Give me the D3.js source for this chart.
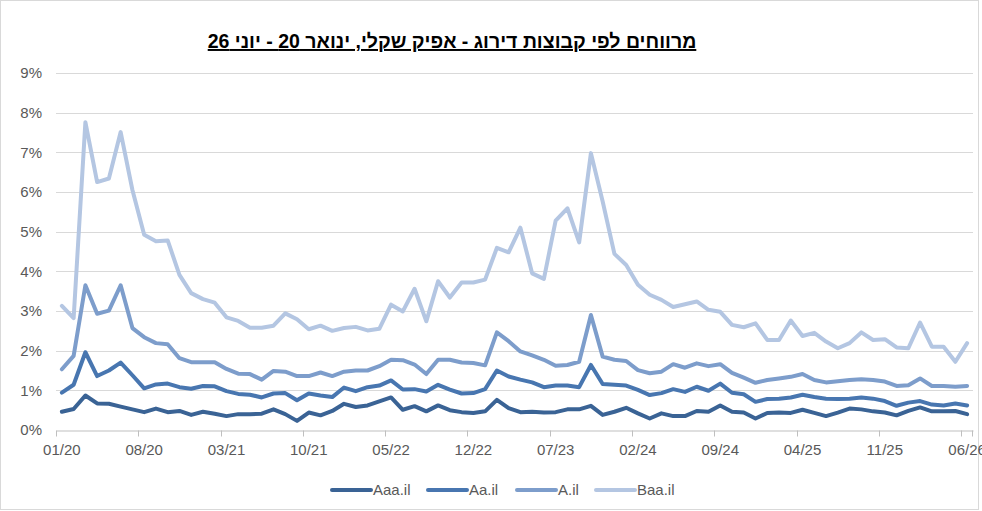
<!DOCTYPE html>
<html>
<head>
<meta charset="utf-8">
<script src="https://cdn.jsdelivr.net/npm/d3@7"></script>
<style>
  body { margin: 0; background: #fff; }
  svg { display: block; }
</style>
</head>
<body>
<div id="chart"></div>
<script>
// monthly spreads, 01/2020 - 06/2026 (percent)
var months = d3.timeMonth.range(new Date(2020, 0, 1), new Date(2026, 6, 1));
var tickLabels = ["01/20","08/20","03/21","10/21","05/22","12/22","07/23","02/24","09/24","04/25","11/25","06/26"];
var seriesNames = ["Aaa.il","Aa.il","A.il","Baa.il"];
var seriesColors = ["#3a6395","#4876b0","#7d9dcb","#b4c6e2"];

var aaa = [0.46,0.53,0.87,0.67,0.66,0.59,0.52,0.45,0.54,0.45,0.48,0.38,0.46,
  0.41,0.35,0.40,0.40,0.41,0.52,0.40,0.23,0.44,0.37,0.48,0.66,0.58,
  0.62,0.72,0.82,0.51,0.60,0.47,0.62,0.50,0.45,0.43,0.47,0.76,0.55,0.45,
  0.46,0.44,0.45,0.52,0.52,0.61,0.38,0.46,0.56,0.42,0.29,0.42,0.35,
  0.35,0.48,0.46,0.62,0.46,0.44,0.29,0.43,0.44,0.43,0.51,0.43,0.35,
  0.44,0.54,0.52,0.47,0.44,0.37,0.48,0.57,0.47,0.47,0.48,0.40];
var aa = [0.94,1.14,1.96,1.36,1.50,1.70,1.38,1.05,1.15,1.17,1.08,1.04,1.11,
  1.10,0.98,0.91,0.89,0.82,0.92,0.93,0.75,0.92,0.87,0.83,1.07,0.98,
  1.08,1.12,1.25,1.02,1.03,0.97,1.14,1.02,0.92,0.93,1.03,1.50,1.35,1.27,
  1.20,1.08,1.12,1.12,1.08,1.64,1.16,1.14,1.12,1.01,0.88,0.93,1.03,
  0.96,1.09,0.99,1.17,0.94,0.90,0.71,0.78,0.79,0.82,0.89,0.83,0.79,
  0.78,0.79,0.82,0.79,0.73,0.61,0.69,0.73,0.64,0.62,0.67,0.62];
var a = [1.53,1.87,3.65,2.93,3.01,3.65,2.57,2.34,2.19,2.16,1.81,1.71,1.71,
  1.71,1.54,1.42,1.41,1.27,1.49,1.47,1.36,1.36,1.45,1.36,1.47,1.50,
  1.50,1.61,1.77,1.76,1.65,1.41,1.77,1.77,1.70,1.69,1.63,2.46,2.24,1.98,
  1.88,1.77,1.62,1.64,1.72,2.90,1.85,1.77,1.74,1.51,1.43,1.47,1.66,
  1.57,1.68,1.61,1.66,1.44,1.32,1.19,1.26,1.30,1.34,1.41,1.26,1.20,
  1.23,1.26,1.28,1.26,1.22,1.11,1.13,1.30,1.11,1.11,1.09,1.11];
var baa = [3.13,2.82,7.76,6.25,6.34,7.51,6.05,4.92,4.76,4.78,3.91,3.45,3.30,
  3.21,2.84,2.75,2.58,2.58,2.63,2.94,2.79,2.54,2.63,2.50,2.57,2.60,
  2.51,2.55,3.16,2.99,3.56,2.74,3.75,3.34,3.72,3.72,3.79,4.59,4.48,5.10,
  3.95,3.81,5.28,5.59,4.73,6.98,5.76,4.44,4.16,3.66,3.41,3.28,3.10,
  3.17,3.24,3.03,2.98,2.65,2.59,2.69,2.27,2.27,2.76,2.37,2.45,2.23,
  2.06,2.19,2.46,2.27,2.29,2.08,2.06,2.71,2.10,2.10,1.72,2.19];

var allSeries = [aaa, aa, a, baa];

var W = 982, H = 511;
var margin = {top: 73, left: 56, right: 9, bottom: 81};

var svg = d3.select("#chart").append("svg")
  .attr("width", W)
  .attr("height", H);

// chart border
svg.append("rect")
  .attr("x", 0.5).attr("y", 0.5)
  .attr("width", W - 4).attr("height", H - 2)
  .attr("fill", "none")
  .attr("stroke", "#d9d9d9");

var x = d3.scaleBand()
  .domain(d3.range(months.length))
  .range([margin.left, W - margin.right])
  .padding(0);

var y = d3.scaleLinear()
  .domain([0, 9])
  .range([H - margin.bottom, margin.top]);

// gridlines
svg.append("g")
  .selectAll("line")
  .data(d3.range(1, 10))
  .enter()
  .append("line")
  .attr("x1", margin.left)
  .attr("x2", W - margin.right)
  .attr("y1", function(d) { return Math.round(y(d)) + 0.5; })
  .attr("y2", function(d) { return Math.round(y(d)) + 0.5; })
  .attr("stroke", "#d9d9d9")
  .attr("stroke-width", 1);

// y labels
svg.append("g")
  .selectAll("text")
  .data(d3.range(0, 10))
  .enter()
  .append("text")
  .attr("x", 42)
  .attr("y", function(d) { return y(d); })
  .attr("dy", "0.35em")
  .attr("text-anchor", "end")
  .style("font-family", "Liberation Sans, Arial, sans-serif")
  .style("font-size", "15px")
  .style("fill", "#595959")
  .text(function(d) { return d + "%"; });

// x axis, one label every 7 months
var xAxis = d3.axisBottom(x)
  .tickValues(d3.range(0, months.length, 7))
  .tickSize(0)
  .tickFormat(function(i) { return tickLabels[i / 7]; });

var gx = svg.append("g")
  .attr("transform", "translate(0," + (Math.round(y(0)) + 0.5) + ")")
  .call(xAxis);
gx.select(".domain").attr("stroke", "#bfbfbf");
gx.selectAll("text")
  .attr("dy", "1.45em")
  .style("font-family", "Liberation Sans, Arial, sans-serif")
  .style("font-size", "15px")
  .style("fill", "#595959");

// tick marks between categories
gx.selectAll(".catTick")
  .data(d3.range(0, months.length, 7))
  .enter()
  .append("line")
  .attr("class", "catTick")
  .attr("x1", function(i) { return Math.round(x(i)) + 0.5; })
  .attr("x2", function(i) { return Math.round(x(i)) + 0.5; })
  .attr("y1", 0)
  .attr("y2", 6)
  .attr("stroke", "#bfbfbf");
gx.append("line")
  .attr("x1", Math.round(W - margin.right) - 0.5)
  .attr("x2", Math.round(W - margin.right) - 0.5)
  .attr("y1", 0).attr("y2", 6)
  .attr("stroke", "#bfbfbf");

// lines
var line = d3.line()
  .x(function(d, i) { return x(i) + x.bandwidth() / 2; })
  .y(function(d) { return y(d); });

svg.append("g")
  .selectAll("path")
  .data(allSeries.slice().reverse())
  .enter()
  .append("path")
  .attr("d", line)
  .attr("fill", "none")
  .attr("stroke", function(d, i) { return seriesColors[3 - i]; })
  .attr("stroke-width", 4)
  .attr("stroke-linejoin", "round")
  .attr("stroke-linecap", "round");

// title
svg.append("text")
  .attr("x", 452)
  .attr("y", 48)
  .attr("text-anchor", "middle")
  .attr("direction", "rtl")
  .style("font-family", "Liberation Sans Narrow, Arial Narrow, sans-serif")
  .style("font-weight", "bold")
  .style("font-size", "19.5px")
  .style("text-decoration", "underline")
  .style("fill", "#000")
  .text("מרווחים לפי קבוצות דירוג - אפיק שקלי, ינואר 20 - יוני 26");

// legend
var legendX = [332, 428, 517, 596];
var leg = svg.append("g").selectAll("g")
  .data(seriesNames)
  .enter()
  .append("g")
  .attr("transform", function(d, i) { return "translate(" + legendX[i] + ",490)"; });
leg.append("line")
  .attr("x1", 0).attr("x2", 39)
  .attr("y1", 0).attr("y2", 0)
  .attr("stroke", function(d, i) { return seriesColors[i]; })
  .attr("stroke-width", 4)
  .attr("stroke-linecap", "round");
leg.append("text")
  .attr("x", 41)
  .attr("y", 0)
  .attr("dy", "0.35em")
  .style("font-family", "Liberation Sans, Arial, sans-serif")
  .style("font-size", "15px")
  .style("fill", "#595959")
  .text(function(d) { return d; });
</script>
</body>
</html>
